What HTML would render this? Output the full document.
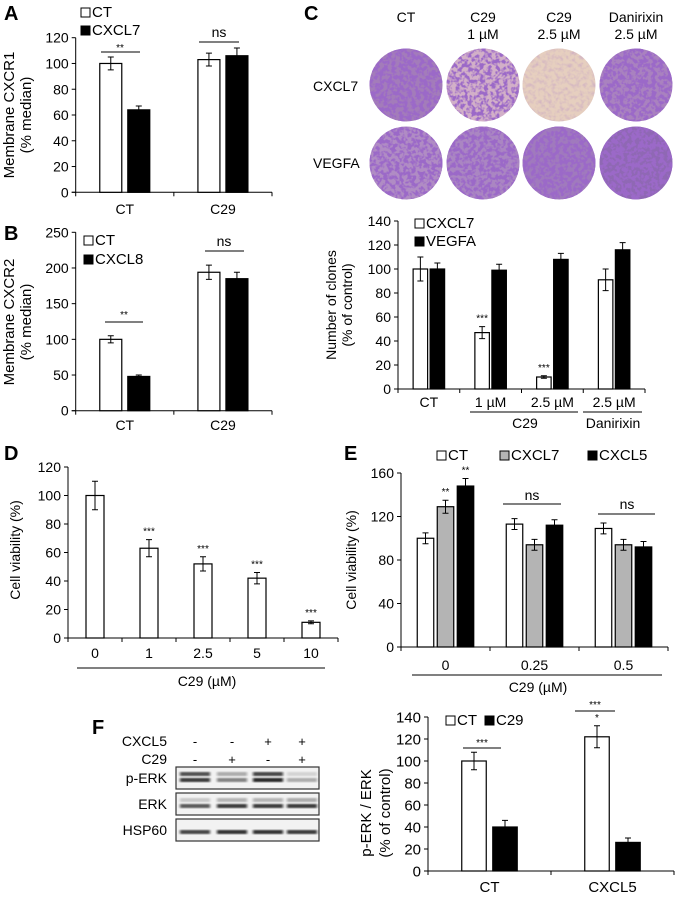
<!DOCTYPE html>
<html><head><meta charset="utf-8"><style>
html,body{margin:0;padding:0;background:#fff;}
svg{display:block;font-family:"Liberation Sans",Arial,sans-serif;}
</style></head><body>
<svg id="fig" width="681" height="897" viewBox="0 0 681 897" xmlns="http://www.w3.org/2000/svg">
<defs>
<filter id="blur1"><feGaussianBlur stdDeviation="1.2"/></filter>
</defs>
<g id="root"></g>
</svg>
<script>
// ---- Panel A data
const aCats=['CT','C29'];
const aCT=[100,103];
const aCTErr=[5,5];
const aCXCL7=[64,106];
const aCXCL7Err=[3,6];
const aTicks=[0,20,40,60,80,100,120];
// ---- Panel B data
const bCats=['CT','C29'];
const bCT=[100,194];
const bCTErr=[5,10];
const bCXCL8=[48,185];
const bCXCL8Err=[2,9];
const bTicks=[0,50,100,150,200,250];
// ---- Panel C data
const cCats=['CT','1 µM','2.5 µM','2.5 µM'];
const cCXCL7=[100,47,10,91];
const cCXCL7Err=[10,5,1,9];
const cVEGFA=[100,99,108,116];
const cVEGFAErr=[5,5,5,6];
const cTicks=[0,20,40,60,80,100,120,140];
// ---- Panel D data
const dCats=['0','1','2.5','5','10'];
const dVal=[100,63,52,42,11];
const dErr=[10,6,5,4,1];
const dTicks=[0,20,40,60,80,100,120];
// ---- Panel E data
const eCats=['0','0.25','0.5'];
const eCT=[100,113,109];
const eCTErr=[5,5,5];
const eCXCL7=[129,94,94];
const eCXCL7Err=[6,5,5];
const eCXCL5=[148,112,92];
const eCXCL5Err=[7,5,5];
const eTicks=[0,40,80,120,160];
// ---- Panel F data
const fCats=['CT','CXCL5'];
const fCT=[100,122];
const fCTErr=[8,10];
const fC29=[40,26];
const fC29Err=[6,4];
const fTicks=[0,20,40,60,80,100,120,140];

const NS='http://www.w3.org/2000/svg';
const root=document.getElementById('root');
function el(tag,attrs,parent,text){
  const e=document.createElementNS(NS,tag);
  for(const k in attrs) e.setAttribute(k,attrs[k]);
  if(text!==undefined) e.textContent=text;
  (parent||root).appendChild(e);
  return e;
}
function txt(x,y,s,size,anchor,name,extra){
  const t=el('text',Object.assign({x:x,y:y,'font-size':size,'text-anchor':anchor||'middle',fill:'#000'},extra||{}),null,s);
  
  
  return t;
}
function line(x1,y1,x2,y2,name,w){
  const l=el('line',{x1:x1,y1:y1,x2:x2,y2:y2,stroke:'#000','stroke-width':w||1});
  
  
  return l;
}
function chart(o){
  const g=el('g',{});
  
  
  const maxV=o.ticks[o.ticks.length-1];
  const y=v=>o.y0-(v/maxV)*(o.y0-o.yTop);
  const n=o.cats.length, gw=(o.x1-o.x0)/n;
  const cx=i=>o.x0+(i+0.5)*gw;
  let a=el('line',{x1:o.x0,y1:o.y0,x2:o.x0,y2:o.yTop,stroke:'#000','stroke-width':1},g);
  
  
  a=el('line',{x1:o.x0-4,y1:o.y0,x2:o.x1,y2:o.y0,stroke:'#000','stroke-width':1},g);
  
  
  o.ticks.forEach(t=>{
    const tk=el('line',{x1:o.x0-4,y1:y(t),x2:o.x0,y2:y(t),stroke:'#000'},g);
    
    
    const tl=el('text',{x:o.x0-7,y:y(t)+o.fs*0.36,'font-size':o.fs,'text-anchor':'end'},g,String(t));
    
    
  });
  for(let i=0;i<=n;i++){
    const xt=o.x0+i*gw;
    const tk=el('line',{x1:xt,y1:o.y0,x2:xt,y2:o.y0+4,stroke:'#000'},g);
    
    
  }
  const ns=o.series.length, total=ns*o.stride-(o.stride-o.barW);
  o.cats.forEach((c,i)=>{
    const cl=el('text',{x:cx(i),y:o.catY,'font-size':o.cfs||o.fs,'text-anchor':'middle'},g,c);
    
    
    o.series.forEach((s,j)=>{
      const bx=cx(i)-total/2+j*o.stride;
      const r=el('rect',{x:bx,y:y(s.vals[i]),width:o.barW,height:o.y0-y(s.vals[i]),fill:s.fill,stroke:'#000','stroke-width':1.2},g);
      
      
      const ex=bx+o.barW/2, et=y(s.vals[i]+s.errs[i]), eb=y(s.vals[i]-s.errs[i]);
      const e=el('path',{d:`M${ex},${et}V${eb}M${ex-3},${et}H${ex+3}M${ex-3},${eb}H${ex+3}`,stroke:'#000','stroke-width':1,fill:'none'},g);
      
      
      if(s.stars && s.stars[i]){
        const st=el('text',{x:ex,y:et-5,'font-size':10,'text-anchor':'middle'},g,s.stars[i]);
        
        
      }
    });
  });
  return {y:y,cx:cx};
}
function legendBox(x,y,fill,label,name,fs){
  const r=el('rect',{x:x,y:y-9,width:9,height:9,fill:fill,stroke:'#000','stroke-width':1});
  
  
  txt(x+11,y,label,fs||15,'start',name+'-label');
}
function panelLabel(x,y,s){txt(x,y,s,20,'start','panel-label-'+s.toLowerCase(),{'font-weight':'bold'});}
function yTitle(x,y,s,fs,name){
  txt(x,y,s,fs||14,'middle',name,{transform:`rotate(-90 ${x} ${y})`});
}

// ---- Panel A
panelLabel(4,20,'A');
chart({name:'panel-a-chart',x0:75.7,x1:272,y0:192.3,yTop:37.7,ticks:aTicks,cats:aCats,barW:22,stride:28,fs:14,catY:214,
  series:[{key:'ct',vals:aCT,errs:aCTErr,fill:'#fff'},{key:'cxcl7',vals:aCXCL7,errs:aCXCL7Err,fill:'#000'}]});
legendBox(81,17,'#fff','CT','legend-a-ct');
legendBox(81,35,'#000','CXCL7','legend-a-cxcl7');
txt(120,51,'**',10,'middle','sig-a-ct'); line(101,52,140,52,'sig-line-a-ct');
txt(219,37,'ns',14,'middle','sig-a-c29'); line(199,42,239,42,'sig-line-a-c29');
yTitle(14,115,'Membrane CXCR1',15,'y-axis-title-a');
yTitle(31,115,'(% median)',15,'y-axis-subtitle-a');

// ---- Panel B
panelLabel(4,240,'B');
chart({name:'panel-b-chart',x0:75.7,x1:272,y0:410.7,yTop:232.3,ticks:bTicks,cats:bCats,barW:22,stride:28,fs:14,catY:430,
  series:[{key:'ct',vals:bCT,errs:bCTErr,fill:'#fff'},{key:'cxcl8',vals:bCXCL8,errs:bCXCL8Err,fill:'#000'}]});
legendBox(84,245,'#fff','CT','legend-b-ct');
legendBox(84,264,'#000','CXCL8','legend-b-cxcl8');
txt(124,318,'**',10,'middle','sig-b-ct'); line(105,322,143,322,'sig-line-b-ct');
txt(224,246,'ns',14,'middle','sig-b-c29'); line(205,251,244,251,'sig-line-b-c29');
yTitle(14,322,'Membrane CXCR2',15,'y-axis-title-b');
yTitle(31,322,'(% median)',15,'y-axis-subtitle-b');

// ---- Panel C images
panelLabel(304,20,'C');
const cHead=[['CT'],['C29','1 µM'],['C29','2.5 µM'],['Danirixin','2.5 µM']];
const wellX=[406,483,559,636];
cHead.forEach((h,i)=>{h.forEach((s,k)=>txt(wellX[i],22+k*17,s,14,'middle','column-header'));});
txt(313,91,'CXCL7',14,'start','row-label-cxcl7');
txt(313,168,'VEGFA',14,'start','row-label-vegfa');
const defs=document.querySelector('defs');
const dens=[[7,5,0.6,7],[6,6.5,7,8]];
const base=[['#a37cba','#d2b0c8','#e6cfbf','#a982bf'],['#b08cc4','#aa86c2','#a07abd','#8f68b4']];
[85,163].forEach((cy,r)=>{
  wellX.forEach((x,i)=>{
    const fid='sp'+r+i;
    const f=el('filter',{id:fid,x:'0',y:'0',width:'1',height:'1'},defs);
    el('feTurbulence',{type:'fractalNoise',baseFrequency:'0.25',numOctaves:'2',seed:String(r*4+i+3),result:'n'},f);
    el('feColorMatrix',{type:'matrix',in:'n',values:`0 0 0 0 0.33  0 0 0 0 0.14  0 0 0 0 0.58  ${dens[r][i]} 0 0 0 ${-dens[r][i]*0.42}`,result:'c'},f);
    el('feComposite',{in:'c',in2:'SourceGraphic',operator:'in'},f);
    const b=el('circle',{cx:x,cy:cy,r:36.5,fill:base[r][i]});
    
    
    const s=el('circle',{cx:x,cy:cy,r:36.5,fill:'#000',filter:`url(#${fid})`});
    
    
  });
});

// ---- Panel C chart
const cStars=['','***','***',''];
chart({name:'panel-c-chart',x0:398,x1:645,y0:389,yTop:221,ticks:cTicks,cats:cCats,barW:14.5,stride:17,fs:14,catY:407,
  series:[{key:'cxcl7',vals:cCXCL7,errs:cCXCL7Err,fill:'#fff',stars:cStars},{key:'vegfa',vals:cVEGFA,errs:cVEGFAErr,fill:'#000'}]});
legendBox(415,228,'#fff','CXCL7','legend-c-cxcl7');
legendBox(415,246,'#000','VEGFA','legend-c-vegfa');
line(470,412,578,412,'group-line-c29'); line(583,412,642,412,'group-line-danirixin');
txt(525,428,'C29',14,'middle','group-label-c29');
txt(613,428,'Danirixin',14,'middle','group-label-danirixin');
yTitle(336,305,'Number of clones',14,'y-axis-title-c');
yTitle(352,305,'(% of control)',14,'y-axis-subtitle-c');

// ---- Panel D
panelLabel(4,460,'D');
chart({name:'panel-d-chart',x0:68,x1:338,y0:638,yTop:467,ticks:dTicks,cats:dCats,barW:18,stride:18,fs:14,catY:658,
  series:[{key:'c29',vals:dVal,errs:dErr,fill:'#fff',stars:['','***','***','***','***']}]});
line(77,668,325,668,'underline-d');
txt(207,686,'C29 (µM)',14,'middle','x-axis-title-d');
yTitle(20,550,'Cell viability (%)',14,'y-axis-title-d');

// ---- Panel E
panelLabel(344,460,'E');
chart({name:'panel-e-chart',x0:401,x1:668,y0:647,yTop:473,ticks:eTicks,cats:eCats,barW:16.5,stride:20,fs:14,catY:670,
  series:[{key:'ct',vals:eCT,errs:eCTErr,fill:'#fff'},{key:'cxcl7',vals:eCXCL7,errs:eCXCL7Err,fill:'#b4b4b4',stars:['**','','']},{key:'cxcl5',vals:eCXCL5,errs:eCXCL5Err,fill:'#000',stars:['**','','']}]});
legendBox(437,460,'#fff','CT','legend-e-ct');
legendBox(500,460,'#b4b4b4','CXCL7','legend-e-cxcl7');
legendBox(588,460,'#000','CXCL5','legend-e-cxcl5');
txt(532,500,'ns',14,'middle','sig-e-025'); line(503,504,561,504,'sig-line-e-025');
txt(627,509,'ns',14,'middle','sig-e-05'); line(598,514,655,514,'sig-line-e-05');
line(412,675,662,675,'underline-e');
txt(538,692,'C29 (µM)',14,'middle','x-axis-title-e');
yTitle(356,560,'Cell viability (%)',14,'y-axis-title-e');

// ---- Panel F blot
panelLabel(92,734,'F');
txt(167,746,'CXCL5',14,'end','blot-label-cxcl5');
txt(167,764,'C29',14,'end','blot-label-c29');
const laneX=[195,232,268,302];
['-','-','+','+'].forEach((s,i)=>txt(laneX[i],746,s,13,'middle','cxcl5-sign'));
['-','+','-','+'].forEach((s,i)=>txt(laneX[i],764,s,13,'middle','c29-sign'));
const blots=[['p-ERK',767,[[0.8,0.9],[0.35,0.55],[0.85,1],[0.15,0.35]]],['ERK',793,[[0.2,0.75],[0.3,0.9],[0.3,0.9],[0.35,0.9]]],['HSP60',819,[[0,0.85],[0,0.95],[0,0.95],[0,0.9]]]];
blots.forEach(([lab,by,bands])=>{
  txt(167,by+16,lab,14,'end','blot-label-'+lab.toLowerCase());
  const r=el('rect',{x:176,y:by,width:143,height:22,fill:'#f2f2f2',stroke:'#333','stroke-width':1.2});
  
  
  bands.forEach((b,i)=>{
    [[by+7,b[0]],[by+13,b[1]]].forEach(([yy,op])=>{
      if(op<=0) return;
      const e=el('rect',{x:laneX[i]-15,y:yy-2,width:30,height:4,fill:'#111',opacity:op,filter:'url(#blur1)'});
      
      
    });
  });
});

// ---- Panel F chart
chart({name:'panel-f-chart',x0:428,x1:674,y0:871,yTop:717,ticks:fTicks,cats:fCats,barW:24.5,stride:31,fs:15,catY:892,
  series:[{key:'ct',vals:fCT,errs:fCTErr,fill:'#fff',stars:['','*']},{key:'c29',vals:fC29,errs:fC29Err,fill:'#000'}]});
legendBox(446,725,'#fff','CT','legend-f-ct',15);
legendBox(485,725,'#000','C29','legend-f-c29',15);
txt(482,746,'***',10,'middle','sig-f-ct'); line(463,748,501,748,'sig-line-f-ct');
txt(595,708,'***',10,'middle','sig-f-cxcl5'); line(575,711,615,711,'sig-line-f-cxcl5');
yTitle(371,813,'p-ERK / ERK',15,'y-axis-title-f');
yTitle(390,813,'(% of control)',15,'y-axis-subtitle-f');
</script>
</body></html>
